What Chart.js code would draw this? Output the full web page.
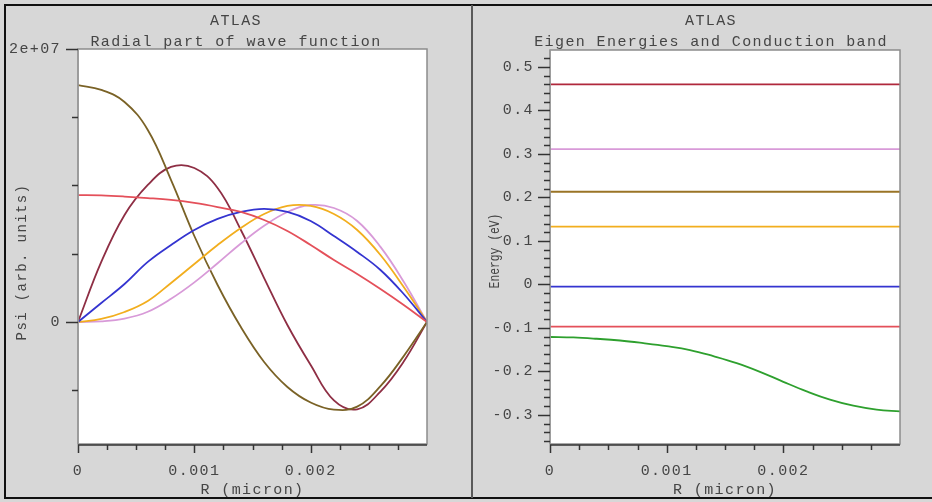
<!DOCTYPE html>
<html><head><meta charset="utf-8">
<script src="https://cdn.jsdelivr.net/npm/chart.js@4.4.1/dist/chart.umd.min.js"></script>
<style>
html,body{margin:0;padding:0;background:#d7d7d7;}
#wrap{position:relative;width:932px;height:502px;background:#d7d7d7;overflow:hidden;}
canvas{position:absolute;top:0;}
#c1{left:0;} #c2{left:474px;}
.bl{position:absolute;background:#111;}
</style></head><body>
<div id="wrap">
<canvas id="c1" width="472" height="502"></canvas>
<canvas id="c2" width="458" height="502"></canvas>
<div class="bl" style="left:4px;top:4px;width:928px;height:2px"></div>
<div class="bl" style="left:4px;top:4px;width:2px;height:495px"></div>
<div class="bl" style="left:4px;top:497px;width:928px;height:2px"></div>
<div style="position:absolute;left:471px;top:5px;width:2px;height:493px;background:#5a5a5a"></div>
</div>
<script>
// ---------- data ----------
const R = [0, 0.0002, 0.0004, 0.0006, 0.0008, 0.0010, 0.0012, 0.0014, 0.0016, 0.0018, 0.0020, 0.0022, 0.0024, 0.0026, 0.0028, 0.0030];
// wave functions (units of 1e6, arb.)
const psi1s = [9.30, 9.27, 9.19, 9.08, 8.94, 8.72, 8.42, 8.06, 7.47, 6.67, 5.64, 4.54, 3.52, 2.42, 1.25, 0];
const psi1p = [0, 1.39, 2.78, 4.40, 5.64, 6.74, 7.55, 8.06, 8.28, 8.06, 7.40, 6.30, 5.13, 3.81, 2.05, 0];
const psi1d = [0, 0.22, 0.73, 1.54, 2.86, 4.25, 5.64, 6.89, 7.91, 8.50, 8.50, 7.91, 6.74, 4.91, 2.56, 0];
const psi1f = [0, 0.05, 0.25, 0.75, 1.70, 2.90, 4.30, 5.75, 7.05, 8.06, 8.57, 8.35, 7.40, 5.50, 2.95, 0];
const psi2s = [17.36, 17.00, 16.12, 14.07, 10.40, 6.30, 2.71, -0.37, -2.93, -4.76, -5.90, -6.42, -6.20, -4.70, -2.50, 0];
const psi2p = [0, 4.40, 7.84, 10.04, 11.36, 11.28, 9.82, 6.74, 3.22, -0.22, -3.15, -5.75, -6.40, -5.10, -2.90, 0];
// eigen energies (eV) and conduction band
const eigenE = [0.46, 0.311, 0.213, 0.133, -0.005, -0.097];
const condBand = [-0.121, -0.122, -0.125, -0.129, -0.135, -0.142, -0.151, -0.165, -0.181, -0.201, -0.224, -0.246, -0.265, -0.279, -0.288, -0.292];
// tick labels
const xTickVals = [0, 0.001, 0.002];
const xTickLabels = ['0', '0.001', '0.002'];
const psiTickVals = [0, 2e7];
const psiTickLabels = ['0', '2e+07'];
const eTickVals = [-0.3, -0.2, -0.1, 0, 0.1, 0.2, 0.3, 0.4, 0.5];
const eTickLabels = ['-0.3', '-0.2', '-0.1', '0', '0.1', '0.2', '0.3', '0.4', '0.5'];

// ---------- style ----------
const FAM = '"Liberation Mono", "DejaVu Sans Mono", monospace';
const FONT = '15px ' + FAM;
const LS = '1.4px';
const TXT = '#454545';
const cRed = '#e4505a', cBlue = '#3434d0', cOrange = '#f2ae1e', cPink = '#d89ad8', cOlive = '#7a6226', cMaroon = '#8e2e44', cGreen = '#2ea02e';
const cTop = '#b0283c', cBrown = '#9a7426';

const pts = (arr, k) => R.map((r, i) => ({x: r, y: arr[i] * k}));
function ds(data, color) {
  return {data, borderColor: color, borderWidth: 1.8, pointRadius: 0, tension: 0.4, fill: false};
}

function fmtTicks(vals, labels) {
  return {
    afterBuildTicks: s => { s.ticks = vals.map(v => ({value: v})); },
    cb: (v) => { const i = vals.findIndex(t => Math.abs(t - v) < 1e-12 * Math.max(1, Math.abs(t))); return i >= 0 ? labels[i] : ''; }
  };
}

function makePlugin(cfg) {
  return {
    id: 'deco',
    beforeUpdate(c) { c.ctx.letterSpacing = LS; },
    beforeDraw(c) {
      const {ctx, chartArea: a} = c;
      ctx.save(); ctx.fillStyle = '#ffffff'; ctx.fillRect(a.left, a.top, a.right - a.left, a.bottom - a.top); ctx.restore();
      ctx.letterSpacing = LS;
    },
    afterDraw(c) {
      const {ctx, chartArea: a} = c;
      const xs = c.scales.x, ys = c.scales.y;
      ctx.save();
      ctx.letterSpacing = '0px';
      // box
      ctx.strokeStyle = '#8c8c8c'; ctx.lineWidth = 1.5;
      ctx.strokeRect(a.left, a.top, a.right - a.left, a.bottom - a.top);
      ctx.strokeStyle = '#333'; ctx.lineWidth = 1.5;
      ctx.beginPath(); ctx.moveTo(a.left, a.bottom + 1); ctx.lineTo(a.right, a.bottom + 1); ctx.stroke();
      ctx.beginPath(); ctx.moveTo(a.left, a.top); ctx.lineTo(a.left, a.bottom); ctx.strokeStyle = '#9a9a9a'; ctx.stroke();
      // x ticks
      ctx.strokeStyle = '#333'; ctx.lineWidth = 1.5;
      for (let k = 0; k <= 11; k++) {
        const v = k * 0.00025; const px = Math.round(xs.getPixelForValue(v)) + 0.5;
        const L = (k % 4 === 0) ? 8 : 5;
        ctx.beginPath(); ctx.moveTo(px, a.bottom + 1); ctx.lineTo(px, a.bottom + 1 + L); ctx.stroke();
      }
      // y ticks
      for (const t of cfg.yTicks) {
        const py = Math.round(ys.getPixelForValue(t.v)) + 0.5;
        ctx.beginPath(); ctx.moveTo(a.left, py); ctx.lineTo(a.left - t.L, py); ctx.stroke();
      }
      // titles
      ctx.letterSpacing = LS;
      ctx.fillStyle = TXT; ctx.font = FONT; ctx.textAlign = 'center'; ctx.textBaseline = 'middle';
      ctx.fillText('ATLAS', cfg.tx, 21);
      ctx.fillText(cfg.title, cfg.tx, 42);
      ctx.fillText('R (micron)', (a.left + a.right) / 2, 490);
      ctx.font = cfg.yfont; ctx.letterSpacing = cfg.yls;
      ctx.translate(cfg.ytx, cfg.yty); ctx.rotate(-Math.PI / 2); ctx.scale(cfg.ysx, 1);
      ctx.fillText(cfg.ytitle, 0, 0);
      ctx.restore();
    }
  };
}

const xT = fmtTicks(xTickVals, xTickLabels);
function xScale() {
  return {type: 'linear', min: 0, max: 0.003, grid: {display: false, drawTicks: false}, border: {display: false},
    afterBuildTicks: xT.afterBuildTicks,
    afterFit: s => { s.height = 58; },
    ticks: {callback: xT.cb, autoSkip: false, maxRotation: 0, padding: 18, color: TXT, font: {family: FAM, size: 15}}};
}

// ---------- left chart ----------
const psiT = fmtTicks(psiTickVals, psiTickLabels);
const leftYTicks = [-5e6, 0, 5e6, 1e7, 1.5e7, 2e7].map(v => ({v, L: (v === 0 || v === 2e7) ? 12 : 6}));
new Chart(document.getElementById('c1'), {
  type: 'line',
  data: {datasets: [
    ds(pts(psi1s, 1e6), cRed),
    ds(pts(psi1p, 1e6), cBlue),
    ds(pts(psi1d, 1e6), cOrange),
    ds(pts(psi1f, 1e6), cPink),
    ds(pts(psi2s, 1e6), cOlive),
    ds(pts(psi2p, 1e6), cMaroon)
  ]},
  options: {
    responsive: false, animation: false, devicePixelRatio: 1,
    layout: {padding: {left: 0, top: 49, right: 45, bottom: 0}},
    plugins: {legend: {display: false}, tooltip: {enabled: false}},
    scales: {
      x: xScale(),
      y: {type: 'linear', min: -8.94e6, max: 2e7, grid: {display: false, drawTicks: false}, border: {display: false},
        afterBuildTicks: psiT.afterBuildTicks, afterFit: s => { s.width = 78; },
        ticks: {callback: psiT.cb, autoSkip: false, padding: 17, color: TXT, font: {family: FAM, size: 15}}}
    }
  },
  plugins: [makePlugin({title: 'Radial part of wave function', tx: 236, ytitle: 'Psi (arb. units)', ytx: 22, yty: 262, yTicks: leftYTicks, yfont: '14px ' + FAM, yls: '1.4px', ysx: 1})]
});

// ---------- right chart ----------
const eT = fmtTicks(eTickVals, eTickLabels);
const rightYTicks = [];
for (let k = -18; k <= 26; k++) rightYTicks.push({v: k * 0.02, L: (k % 5 === 0) ? 12 : 6});
const eDatasets = eigenE.map((e, i) => ds([{x: 0, y: e}, {x: 0.003, y: e}], [cTop, cPink, cBrown, cOrange, cBlue, cRed][i]));
new Chart(document.getElementById('c2'), {
  type: 'line',
  data: {datasets: [...eDatasets, ds(pts(condBand, 1), cGreen)]},
  options: {
    responsive: false, animation: false, devicePixelRatio: 1,
    layout: {padding: {left: 0, top: 50, right: 32, bottom: 0}},
    plugins: {legend: {display: false}, tooltip: {enabled: false}},
    scales: {
      x: xScale(),
      y: {type: 'linear', min: -0.367, max: 0.539, grid: {display: false, drawTicks: false}, border: {display: false},
        afterBuildTicks: eT.afterBuildTicks, afterFit: s => { s.width = 76; },
        ticks: {callback: eT.cb, autoSkip: false, padding: 16, color: TXT, font: {family: FAM, size: 15}}}
    }
  },
  plugins: [makePlugin({title: 'Eigen Energies and Conduction band', tx: 237, ytitle: 'Energy (eV)', ytx: 21, yty: 251, yTicks: rightYTicks, yfont: '14px ' + FAM, yls: '0px', ysx: 0.81})]
});
</script>
</body></html>
